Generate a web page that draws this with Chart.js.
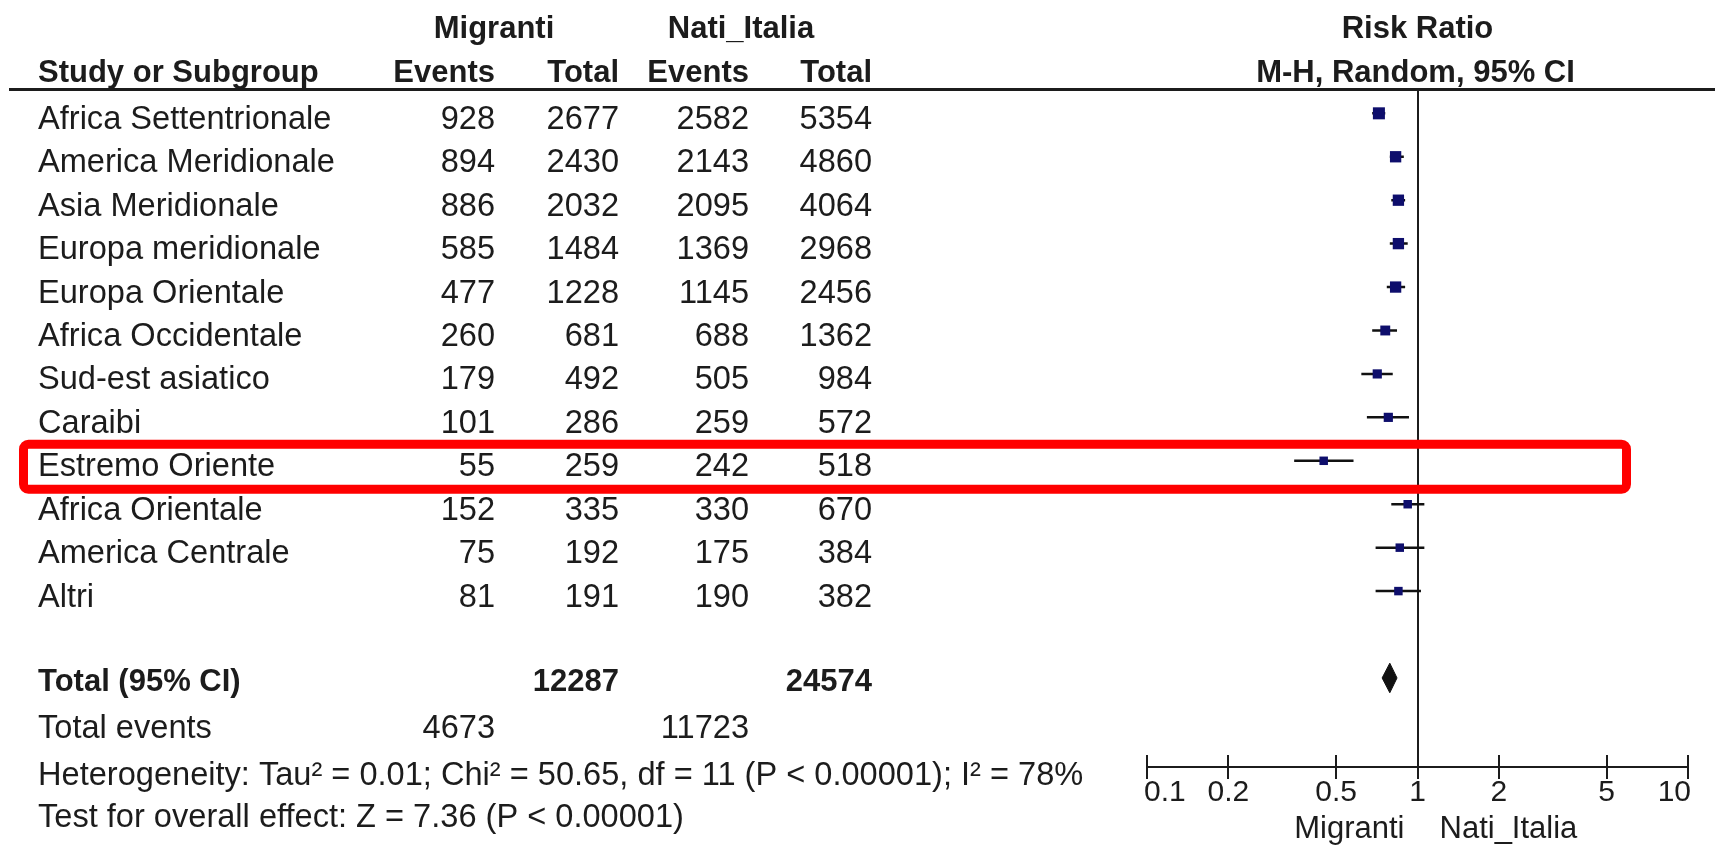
<!DOCTYPE html>
<html>
<head>
<meta charset="utf-8">
<title>Risk Ratio - Migranti vs Nati_Italia</title>
<script src="https://cdn.jsdelivr.net/npm/chart.js@4.4.1/dist/chart.umd.min.js"></script>
<style>
  html, body { margin: 0; padding: 0; background: #fff; }
  #forest { display: block; }
</style>
</head>
<body>
<canvas id="forest" width="1715" height="847"></canvas>
<script>
// study rows, top to bottom
const studies = [
  'Africa Settentrionale', 'America Meridionale', 'Asia Meridionale', 'Europa meridionale',
  'Europa Orientale', 'Africa Occidentale', 'Sud-est asiatico', 'Caraibi',
  'Estremo Oriente', 'Africa Orientale', 'America Centrale', 'Altri'
];
const eventsMigranti = [928, 894, 886, 585, 477, 260, 179, 101, 55, 152, 75, 81];
const totalMigranti = [2677, 2430, 2032, 1484, 1228, 681, 492, 286, 259, 335, 192, 191];
const eventsNati = [2582, 2143, 2095, 1369, 1145, 688, 505, 259, 242, 330, 175, 190];
const totalNati = [5354, 4860, 4064, 2968, 2456, 1362, 984, 572, 518, 670, 384, 382];

// risk ratio and 95% CI
const riskRatio = [0.72, 0.83, 0.85, 0.85, 0.83, 0.76, 0.71, 0.78, 0.45, 0.92, 0.86, 0.85];
const ciLower = [0.68, 0.79, 0.80, 0.79, 0.77, 0.68, 0.62, 0.65, 0.35, 0.80, 0.70, 0.70];
const ciUpper = [0.76, 0.89, 0.90, 0.92, 0.90, 0.84, 0.81, 0.93, 0.58, 1.06, 1.06, 1.03];

// pooled estimate
const totalRR = [0.79];
const totalLower = [0.74];
const totalUpper = [0.84];
const totalsMigranti = [12287, 4673]; // total, events
const totalsNati = [24574, 11723];

const tickValues = [0.1, 0.2, 0.5, 1, 2, 5, 10];
const tickLabels = ['0.1', '0.2', '0.5', '1', '2', '5', '10'];

const heterogeneityText = 'Heterogeneity: Tau\u00b2 = 0.01; Chi\u00b2 = 50.65, df = 11 (P < 0.00001); I\u00b2 = 78%';
const overallText = 'Test for overall effect: Z = 7.36 (P < 0.00001)';

// ---- styling ----
const NAVY = '#0e0e6c';
const INK = '#1c1c1c';
const FONT = '"Liberation Sans", Arial, Helvetica, sans-serif';
const BODY_FONT = '32.6px ' + FONT;
const HEAD_FONT = 'bold 31px ' + FONT;
const boxRadius = [8.5, 8, 8, 8, 8, 7, 6.5, 6.5, 6, 6, 6, 6];
const TOTAL_ROW = 13;
const HIGHLIGHT_ROW = 8;

const COL_LABEL = 38;
const COL_EV_M = 495;
const COL_TOT_M = 619;
const COL_EV_N = 749;
const COL_TOT_N = 872;

const boxes = riskRatio.map((v, i) => ({ x: v, y: i }));
const ciSegments = ciLower.flatMap((lo, i) => [
  { x: lo, y: i },
  { x: ciUpper[i], y: i },
  { x: ciUpper[i], y: null }
]);
const diamondHalf = 0.34;
const diamond = [
  { x: totalLower[0], y: TOTAL_ROW },
  { x: totalRR[0], y: TOTAL_ROW - diamondHalf },
  { x: totalUpper[0], y: TOTAL_ROW },
  { x: totalRR[0], y: TOTAL_ROW + diamondHalf },
  { x: totalLower[0], y: TOTAL_ROW }
];

const frame = {
  id: 'forestFrame',
  beforeDatasetsDraw(chart) {
    const { ctx, chartArea, scales: { x } } = chart;
    ctx.save();
    ctx.strokeStyle = INK;
    // header rule
    ctx.lineWidth = 3;
    ctx.beginPath();
    ctx.moveTo(9, chartArea.top + 0.5);
    ctx.lineTo(chart.width, chartArea.top + 0.5);
    ctx.stroke();
    // line of no effect
    const x1 = Math.round(x.getPixelForValue(1));
    ctx.lineWidth = 2;
    ctx.beginPath();
    ctx.moveTo(x1, chartArea.top);
    ctx.lineTo(x1, chartArea.bottom);
    ctx.stroke();
    // axis
    const ay = chartArea.bottom;
    ctx.beginPath();
    ctx.moveTo(x.getPixelForValue(tickValues[0]), ay);
    ctx.lineTo(x.getPixelForValue(tickValues[tickValues.length - 1]), ay);
    tickValues.forEach(v => {
      const px = Math.round(x.getPixelForValue(v));
      ctx.moveTo(px, ay - 12);
      ctx.lineTo(px, ay + 12);
    });
    ctx.stroke();
    ctx.fillStyle = INK;
    ctx.font = '30px ' + FONT;
    ctx.textBaseline = 'alphabetic';
    const last = tickValues.length - 1;
    tickValues.forEach((v, i) => {
      ctx.textAlign = i === 0 ? 'left' : (i === last ? 'right' : 'center');
      const nudge = i === 0 ? -3 : (i === last ? 3 : 0);
      ctx.fillText(tickLabels[i], x.getPixelForValue(v) + nudge, ay + 34);
    });
    ctx.font = '31px ' + FONT;
    ctx.textAlign = 'right';
    ctx.fillText('Migranti', x.getPixelForValue(1) - 13, ay + 71);
    ctx.textAlign = 'left';
    ctx.fillText('Nati_Italia', x.getPixelForValue(1) + 22, ay + 71);
    ctx.restore();
  }
};

const table = {
  id: 'forestTable',
  afterDraw(chart) {
    const { ctx, scales: { x, y } } = chart;
    ctx.save();
    ctx.fillStyle = INK;
    ctx.textBaseline = 'alphabetic';

    // headers
    ctx.font = HEAD_FONT;
    ctx.textAlign = 'center';
    ctx.fillText('Migranti', 494, 38);
    ctx.fillText('Nati_Italia', 741, 38);
    ctx.fillText('Risk Ratio', x.getPixelForValue(1), 38);
    ctx.fillText('M-H, Random, 95% CI', x.getPixelForValue(1) - 2, 82);
    ctx.textAlign = 'left';
    ctx.fillText('Study or Subgroup', COL_LABEL, 82);
    ctx.textAlign = 'right';
    ctx.fillText('Events', COL_EV_M, 82);
    ctx.fillText('Total', COL_TOT_M, 82);
    ctx.fillText('Events', COL_EV_N, 82);
    ctx.fillText('Total', COL_TOT_N, 82);

    // study rows
    ctx.font = BODY_FONT;
    studies.forEach((name, i) => {
      const by = y.getPixelForValue(i) + 15.5;
      ctx.textAlign = 'left';
      ctx.fillText(name, COL_LABEL, by);
      ctx.textAlign = 'right';
      ctx.fillText(String(eventsMigranti[i]), COL_EV_M, by);
      ctx.fillText(String(totalMigranti[i]), COL_TOT_M, by);
      ctx.fillText(String(eventsNati[i]), COL_EV_N, by);
      ctx.fillText(String(totalNati[i]), COL_TOT_N, by);
    });

    // total row
    const ty = y.getPixelForValue(TOTAL_ROW) + 13;
    ctx.font = HEAD_FONT;
    ctx.textAlign = 'left';
    ctx.fillText('Total (95% CI)', COL_LABEL, ty);
    ctx.textAlign = 'right';
    ctx.fillText(String(totalsMigranti[0]), COL_TOT_M, ty);
    ctx.fillText(String(totalsNati[0]), COL_TOT_N, ty);

    ctx.font = BODY_FONT;
    ctx.textAlign = 'left';
    ctx.fillText('Total events', COL_LABEL, 738);
    ctx.textAlign = 'right';
    ctx.fillText(String(totalsMigranti[1]), COL_EV_M, 738);
    ctx.fillText(String(totalsNati[1]), COL_EV_N, 738);
    ctx.textAlign = 'left';
    ctx.fillText(heterogeneityText, COL_LABEL, 785);
    ctx.fillText(overallText, COL_LABEL, 827);

    // red highlight around Estremo Oriente
    const hy = y.getPixelForValue(HIGHLIGHT_ROW) + 6;
    ctx.strokeStyle = '#ff0000';
    ctx.lineWidth = 9;
    ctx.beginPath();
    if (ctx.roundRect) ctx.roundRect(23.5, hy - 22.5, 1603, 45, 5);
    else ctx.rect(23.5, hy - 22.5, 1603, 45);
    ctx.stroke();
    ctx.restore();
  }
};

new Chart(document.getElementById('forest'), {
  type: 'scatter',
  data: {
    datasets: [
      {
        label: 'Risk Ratio',
        data: boxes,
        pointStyle: 'rect',
        pointRadius: boxRadius,
        backgroundColor: NAVY,
        borderWidth: 0,
        order: 0
      },
      {
        label: '95% CI',
        type: 'line',
        data: ciSegments,
        borderColor: '#111',
        borderWidth: 2.5,
        pointRadius: 0,
        spanGaps: false,
        order: 1
      },
      {
        label: 'Total (95% CI)',
        type: 'line',
        data: diamond,
        borderColor: '#111',
        backgroundColor: '#111',
        borderWidth: 1,
        pointRadius: 0,
        tension: 0,
        fill: 'shape',
        order: 0
      }
    ]
  },
  options: {
    responsive: false,
    animation: false,
    events: [],
    layout: { padding: { left: 1147, right: 27, top: 89, bottom: 80 } },
    plugins: {
      legend: { display: false },
      tooltip: { enabled: false }
    },
    scales: {
      x: { type: 'logarithmic', min: 0.1, max: 10, display: false },
      y: { type: 'linear', reverse: true, min: -0.56, max: 15.05, display: false }
    }
  },
  plugins: [frame, table]
});
</script>
</body>
</html>
